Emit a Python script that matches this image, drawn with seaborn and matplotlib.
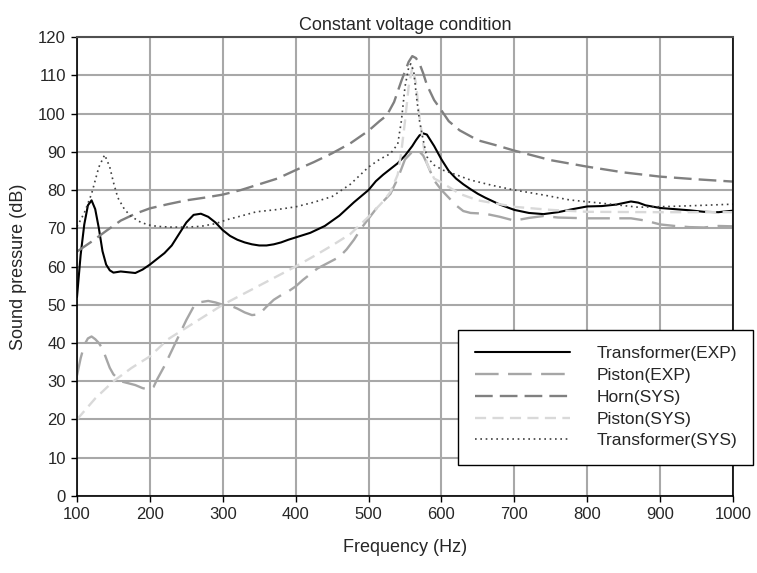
import matplotlib
matplotlib.use("Agg")
import matplotlib.pyplot as plt
import seaborn as sns
import pandas as pd

# Frequency response data (Hz, dB)
trans_exp_f = [100, 105, 110, 115, 120, 125, 130, 135, 140, 145, 150, 160, 170, 180, 190, 200,
               210, 220, 230, 240, 250, 260, 270, 280, 290, 300, 310, 320, 330, 340, 350, 360,
               370, 380, 390, 400, 420, 440, 460, 480, 500, 510, 520, 530, 540, 550, 560, 565,
               570, 575, 580, 585, 590, 600, 610, 620, 630, 640, 650, 660, 680, 700, 720, 740,
               760, 780, 800, 820, 840, 860, 870, 880, 900, 920, 940, 960, 980, 1000]
trans_exp_db = [52, 63, 71, 76, 77.3, 75, 70, 64, 60.5, 59, 58.4, 58.7, 58.5, 58.3, 59.2, 60.5,
                62, 63.5, 65.5, 68.5, 71.5, 73.5, 73.8, 73, 71.5, 69.5, 68, 67, 66.3, 65.8, 65.5, 65.5,
                65.8, 66.3, 67, 67.6, 68.8, 70.6, 73.3, 76.8, 80, 82.3, 84, 85.5, 87, 89, 91.5, 93,
                94.3, 94.8, 94.5, 93, 91.5, 88, 85, 83, 81.5, 80.2, 79, 78, 76.2, 74.8, 74, 73.7,
                74.2, 75, 75.7, 75.8, 76.2, 77, 76.7, 76, 75.3, 75, 74.7, 74.3, 74.2, 74.6]

piston_exp_f = [100, 105, 110, 115, 120, 125, 130, 135, 140, 145, 150, 160, 170, 180, 190, 200,
                205, 210, 220, 230, 240, 250, 260, 270, 280, 290, 300, 310, 320, 330, 340, 350,
                360, 370, 380, 390, 400, 410, 420, 430, 440, 450, 460, 470, 480, 490, 500, 510,
                520, 530, 540, 550, 560, 570, 575, 580, 590, 600, 610, 620, 630, 640, 660, 680,
                700, 720, 740, 760, 800, 840, 860, 880, 900, 920, 940, 960, 980, 1000]
piston_exp_db = [31.5, 36, 39.5, 41.2, 41.7, 41, 40, 38.5, 36, 33.5, 31.8, 30, 29.5, 29, 28.2, 27.8,
                 28.5, 30.5, 34, 38, 42, 46, 49.5, 50.7, 51, 50.6, 50, 49.8, 49, 48, 47.3, 47.5,
                 49.5, 51.3, 52.5, 53.5, 54.8, 56.5, 58, 59.5, 60.5, 61.5, 62.5, 64.5, 67, 70, 72.5, 75,
                 77, 79, 83, 88, 90, 90, 89, 87, 82.5, 80, 78, 76, 74.5, 74, 73.8, 73,
                 72, 72.7, 73.2, 72.8, 72.6, 72.6, 72.6, 72, 71, 70.6, 70.3, 70.2, 70.6, 70.5]

horn_sys_f = [100, 120, 140, 160, 180, 200, 225, 250, 275, 300, 325, 350, 375, 400, 425, 450,
              475, 500, 515, 525, 535, 545, 550, 555, 560, 565, 570, 575, 580, 590, 600, 610,
              625, 650, 675, 700, 750, 800, 850, 900, 950, 1000]
horn_sys_db = [63.9, 66.5, 69.3, 72, 73.8, 75.2, 76.3, 77.3, 78, 78.8, 80, 81.5, 83, 85.2, 87.3, 89.6,
               92.2, 95.5, 98, 99.5, 103, 108.5, 111, 113.5, 115, 114.5, 113, 110.5, 107.5, 103.5, 100.8, 98,
               95.6, 93, 91.7, 90.3, 87.8, 86.1, 84.6, 83.5, 82.8, 82.2]

piston_sys_f = [100, 125, 150, 175, 200, 225, 250, 275, 300, 325, 350, 375, 400, 425, 450, 475,
                500, 510, 520, 530, 540, 545, 550, 555, 560, 565, 570, 575, 580, 590, 600, 625,
                650, 700, 750, 800, 900, 1000]
piston_sys_db = [20, 25.5, 30, 33.5, 36.5, 41, 44, 47, 50, 52.5, 55, 57.5, 60, 62.7, 65.5, 68.5,
                 73, 75, 77, 79.5, 84, 90, 98, 107, 112, 108, 99, 92, 87, 83, 82, 79,
                 77.3, 75.6, 74.8, 74.3, 74.2, 74.2]

trans_sys_f = [100, 110, 120, 130, 138, 145, 150, 156, 165, 173, 185, 197, 210, 228, 250, 270,
               290, 305, 325, 346, 375, 400, 425, 450, 475, 500, 515, 530, 540, 545, 550, 555,
               558, 562, 566, 570, 575, 580, 590, 602, 620, 640, 670, 700, 740, 776, 822, 870,
               913, 960, 1000]
trans_sys_db = [70.4, 74, 79, 86, 89.2, 86, 82, 78, 75, 73.3, 71.8, 70.9, 70.5, 70.3, 70.3, 70.5,
                71.2, 72.2, 73.2, 74.3, 74.9, 75.6, 76.8, 78.3, 81.5, 86, 88, 89.5, 92, 98, 107, 112,
                113, 111, 104, 98, 93, 88.7, 86.5, 85.2, 84, 82.6, 81.2, 80, 78.7, 77.4, 76.5, 75.5,
                75.7, 76, 76.3]

series_labels = ["Transformer(EXP)", "Piston(EXP)", "Horn(SYS)", "Piston(SYS)", "Transformer(SYS)"]
x_ticks = list(range(100, 1001, 100))
y_ticks = list(range(0, 121, 10))

sns.set_style("white")
plt.rcParams["font.family"] = ["Liberation Sans", "DejaVu Sans"]

fig = plt.figure(figsize=(7.57, 5.73), dpi=100)
ax = fig.add_axes([0.1017, 0.1344, 0.8666, 0.801])

series = [
    (trans_exp_f, trans_exp_db, dict(color="black", lw=1.5, linestyle="-")),
    (piston_exp_f, piston_exp_db, dict(color="#a6a6a6", lw=1.7, linestyle=(0, (10, 4)))),
    (horn_sys_f, horn_sys_db, dict(color="#808080", lw=1.7, linestyle=(0, (7.5, 3)))),
    (piston_sys_f, piston_sys_db, dict(color="#d9d9d9", lw=1.7, linestyle=(0, (4.7, 2.7)))),
    (trans_sys_f, trans_sys_db, dict(color="#404040", lw=1.2, linestyle=(0, (1, 2.2)))),
]

for (f, db, style), label in zip(series, series_labels):
    df = pd.DataFrame({"Frequency": f, "SPL": db})
    sns.lineplot(data=df, x="Frequency", y="SPL", ax=ax, label=label,
                 estimator=None, sort=False, **style)

ax.set_xlim(100, 1000)
ax.set_ylim(0, 120)
ax.set_xticks(x_ticks)
ax.set_yticks(y_ticks)
ax.grid(True, color="#a8a8a8", lw=1.5)
ax.set_axisbelow(True)

for side in ["left", "bottom", "right"]:
    ax.spines[side].set_color("black")
    ax.spines[side].set_linewidth(1.2)
ax.spines["top"].set_color("#505050")
ax.spines["top"].set_linewidth(1.5)

ax.tick_params(axis="both", direction="out", length=4, width=1, color="black",
               labelsize=12, pad=4, bottom=True, left=True)

ax.set_xlabel("Frequency (Hz)", fontsize=13, labelpad=12)
ax.set_ylabel("Sound pressure (dB)", fontsize=13, labelpad=8)
ax.set_title("Constant voltage condition", fontsize=13, pad=5)

leg = ax.legend(loc="upper left", bbox_to_anchor=(0.581, 0.362), borderaxespad=0,
                fontsize=12.5, frameon=True, fancybox=False, shadow=False, framealpha=1,
                edgecolor="black", handlelength=5.5, handletextpad=1.5,
                labelspacing=0.38, borderpad=0.95)
leg.get_frame().set_linewidth(1.0)
leg.set_zorder(10)

fig.savefig("out.png", dpi=100)
